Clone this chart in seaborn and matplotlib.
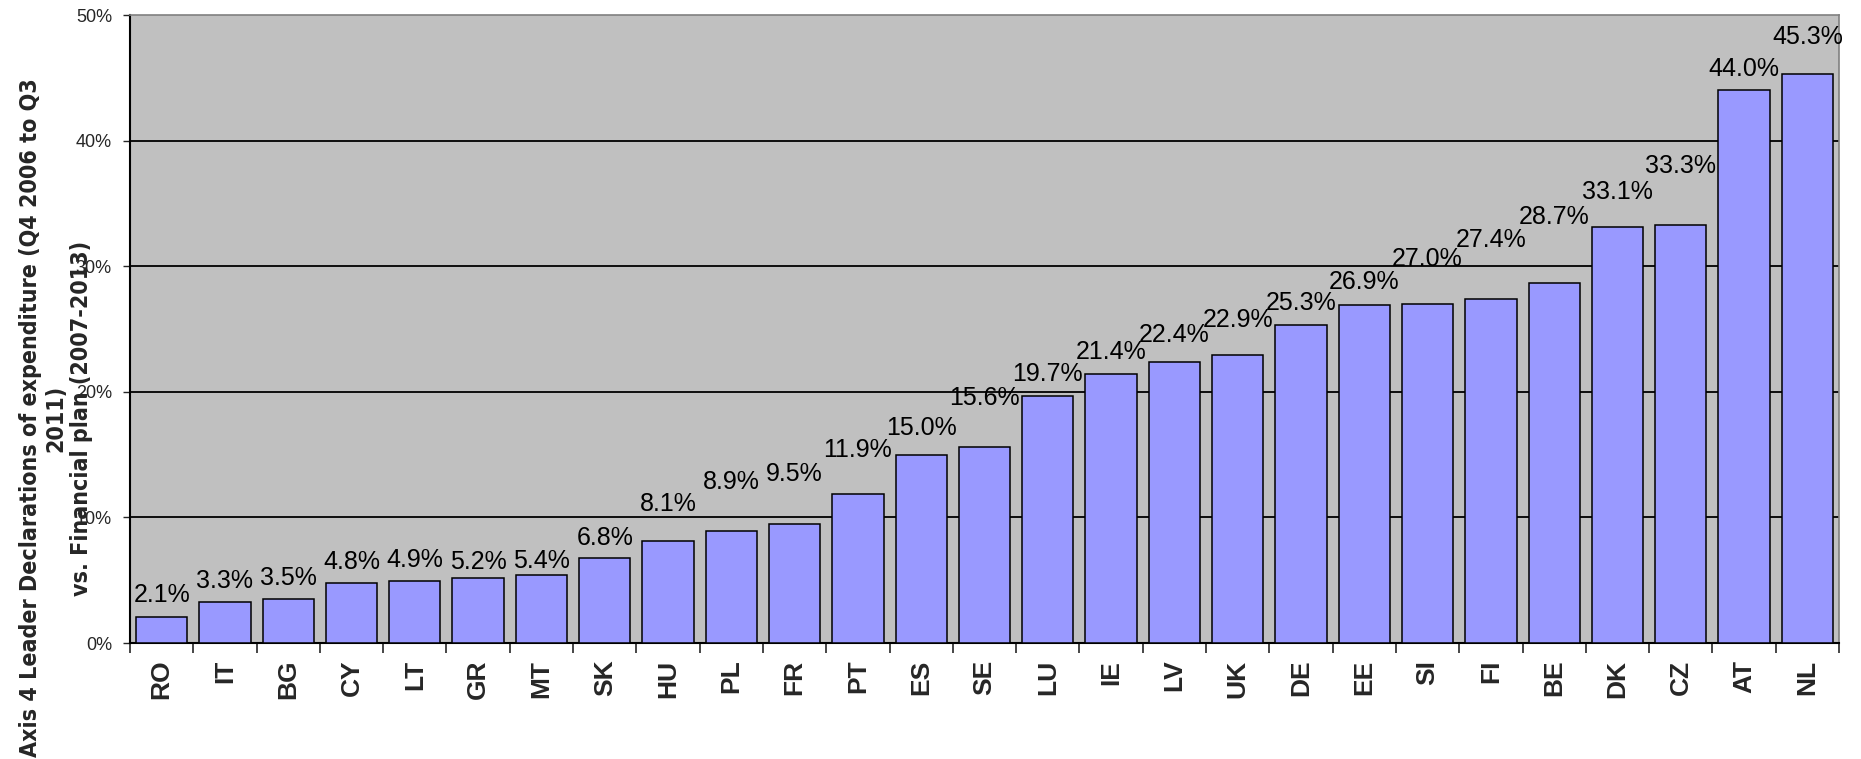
import matplotlib
matplotlib.use("Agg")
import matplotlib.pyplot as plt
from matplotlib import font_manager as fm
from matplotlib.ticker import FixedLocator, FuncFormatter
import pandas as pd
import seaborn as sns

countries = ["RO", "IT", "BG", "CY", "LT", "GR", "MT", "SK", "HU", "PL", "FR", "PT", "ES", "SE",
             "LU", "IE", "LV", "UK", "DE", "EE", "SI", "FI", "BE", "DK", "CZ", "AT", "NL"]
share_pct = [2.1, 3.3, 3.5, 4.8, 4.9, 5.2, 5.4, 6.8, 8.1, 8.9, 9.5, 11.9, 15.0, 15.6,
             19.7, 21.4, 22.4, 22.9, 25.3, 26.9, 27.0, 27.4, 28.7, 33.1, 33.3, 44.0, 45.3]
y_ticks = [0, 10, 20, 30, 40, 50]
y_title_lines = ["Axis 4 Leader Declarations of expenditure (Q4 2006 to Q3", "2011)",
                 "vs. Financial plan (2007-2013)"]

# gap (px) between bar top and label baseline, as laid out in the original
label_gap_px = [15, 14, 14, 14, 14, 9, 7, 13, 30, 42, 43, 37, 20, 42,
                15, 15, 20, 28, 15, 16, 38, 52, 59, 28, 52, 14, 30]

df = pd.DataFrame({"country": countries, "share": share_pct})

# look for a narrow / condensed bold face for the y title (Arial Narrow look)
def find_narrow():
    hits = []
    for f in fm.fontManager.ttflist:
        stretch = str(f.stretch).lower()
        if "narrow" in f.name.lower() or "condensed" in f.name.lower() \
                or stretch in ("condensed", "semi-condensed", "extra-condensed") \
                or (stretch.isdigit() and int(stretch) < 500):
            w = f.weight if isinstance(f.weight, int) else (700 if "bold" in str(f.weight) else 400)
            if f.style == "normal":
                hits.append((abs(w - 700), f.fname))
    hits.sort()
    return hits[0][1] if hits else None

narrow_file = find_narrow()
if narrow_file:
    title_font = fm.FontProperties(fname=narrow_file, size=18)
else:
    title_font = fm.FontProperties(family="Liberation Sans", weight="bold", size=18)

sns.set_style("white")
plt.rcParams["font.family"] = ["Liberation Sans", "DejaVu Sans"]

fig = plt.figure(figsize=(18.61, 7.59), dpi=100)
ax = fig.add_axes([130 / 1861, 1 - 643 / 759, (1839 - 130) / 1861, (643 - 15) / 759])
ax.set_facecolor("#C0C0C0")

sns.barplot(data=df, x="country", y="share", color="#9999FF", saturation=1,
            edgecolor="black", linewidth=1.1, width=0.81, ax=ax, zorder=3)

ax.set_xlim(-0.5, len(countries) - 0.5)
ax.set_ylim(0, 50)
ax.set_yticks(y_ticks)
ax.yaxis.set_major_formatter(FuncFormatter(lambda v, _: f"{v:.0f}%"))
ax.tick_params(axis="y", direction="out", length=5, width=1, labelsize=13, pad=8, left=True)
ax.tick_params(axis="x", which="major", length=0, labelsize=19, pad=12, rotation=90)
ax.xaxis.set_minor_locator(FixedLocator([i - 0.5 for i in range(len(countries) + 1)]))
ax.tick_params(axis="x", which="minor", direction="out", length=7, width=1.2, bottom=True)
for lbl in ax.get_xticklabels():
    lbl.set_fontweight("bold")
ax.set_xlabel("")
ax.set_ylabel("")

ax.grid(False)
for v in y_ticks[1:-1]:
    ax.axhline(v, color="black", lw=1.3, zorder=1)

for side in ["left", "bottom"]:
    ax.spines[side].set_color("black")
    ax.spines[side].set_linewidth(1.5)
for side in ["top", "right"]:
    ax.spines[side].set_color("#808080")
    ax.spines[side].set_linewidth(1.2)

for i, v in enumerate(share_pct):
    ax.annotate(f"{v:.1f}%", xy=(i, v), xytext=(0, label_gap_px[i] * 0.72),
                textcoords="offset points", ha="center", va="baseline",
                fontsize=18, color="black", zorder=5, annotation_clip=False)

# size the title so its long first line runs ~680 px, like the original
renderer = fig.canvas.get_renderer()
probe = fig.text(0, 0, y_title_lines[0], fontproperties=title_font)
first_len = probe.get_window_extent(renderer).width
probe.remove()
title_font.set_size(18 * 680 / first_len)

fig.text(56 / 1861, 1 - 418 / 759, "\n".join(y_title_lines), rotation=90, ha="center",
         va="center", multialignment="center", fontproperties=title_font, linespacing=1.12)

fig.savefig("out.png", dpi=100)
